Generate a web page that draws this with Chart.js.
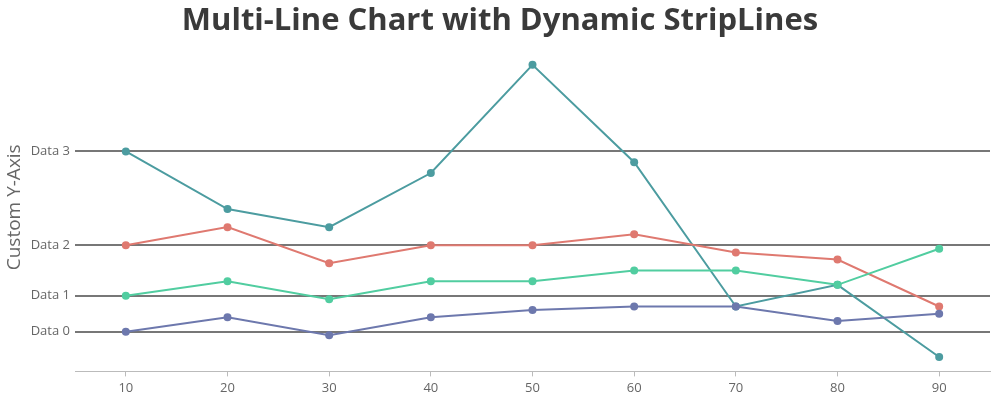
<!DOCTYPE html>
<html>
<head>
<meta charset="utf-8">
<script src="https://cdn.jsdelivr.net/npm/chart.js@4"></script>
<style>
  html, body { margin: 0; padding: 0; background: #fff; }
  #wrap { width: 1000px; height: 400px; }
</style>
</head>
<body>
<div id="wrap"><canvas id="chartStripLines" width="1000" height="400"></canvas></div>
<script>
var xValues = [10, 20, 30, 40, 50, 60, 70, 80, 90];
var series0 = [0, 4, -1, 4, 6, 7, 7, 3, 5];
var series1 = [10, 14, 9, 14, 14, 17, 17, 13, 23];
var series2 = [24, 29, 19, 24, 24, 27, 22, 20, 7];
var series3 = [50, 34, 29, 44, 74, 47, 7, 13, -7];
var stripValues = [0, 10, 24, 50];
var stripLabels = ['Data 0', 'Data 1', 'Data 2', 'Data 3'];
var seriesColors = ['#6D78AD', '#51CDA0', '#DF7970', '#4C9CA0'];

function toPoints(values) {
  return values.map(function (v, i) { return { x: xValues[i], y: v }; });
}

function makeSet(values, color) {
  return {
    data: toPoints(values),
    borderColor: color,
    backgroundColor: color,
    borderWidth: 2,
    pointRadius: 4,
    pointBorderWidth: 0,
    tension: 0
  };
}

var ctx = document.getElementById('chartStripLines');
new Chart(ctx, {
  type: 'line',
  data: {
    datasets: [
      makeSet(series0, seriesColors[0]),
      makeSet(series1, seriesColors[1]),
      makeSet(series2, seriesColors[2]),
      makeSet(series3, seriesColors[3])
    ]
  },
  options: {
    responsive: false,
    animation: false,
    layout: { padding: 0 },
    scales: {
      x: {
        type: 'linear',
        min: 5,
        max: 95,
        afterBuildTicks: function (scale) {
          scale.ticks = xValues.map(function (v) { return { value: v }; });
        },
        grid: { drawOnChartArea: false, color: '#bbb', tickLength: 5 },
        border: { color: '#bbb' },
        ticks: { color: '#666', font: { family: 'Open Sans', size: 13 }, padding: 4 }
      },
      y: {
        type: 'linear',
        min: -11,
        max: 80,
        afterBuildTicks: function (scale) {
          scale.ticks = stripValues.map(function (v) { return { value: v }; });
        },
        afterFit: function (scale) { scale.width = 75; },
        grid: { color: '#777', lineWidth: 2, drawTicks: false },
        border: { display: false },
        ticks: {
          color: '#666',
          padding: 5,
          font: { family: 'Open Sans', size: 13 },
          callback: function (value) {
            var i = stripValues.indexOf(value);
            return i >= 0 ? stripLabels[i] : '';
          }
        },
        title: {
          display: true,
          text: 'Custom Y-Axis',
          color: '#666',
          font: { family: 'Open Sans', size: 19 },
          padding: { top: 3, bottom: 0 }
        }
      },
      // empty right gutter so the title stays centred on the page
      yRight: {
        type: 'linear',
        position: 'right',
        display: true,
        afterFit: function (scale) { scale.width = 10; },
        grid: { display: false },
        border: { display: false },
        ticks: { display: false }
      }
    },
    plugins: {
      legend: { display: false },
      tooltip: { enabled: false },
      title: {
        display: true,
        text: 'Multi-Line Chart with Dynamic StripLines',
        color: '#3a3a3a',
        font: { family: 'Open Sans', size: 31, weight: 'bold' },
        padding: { top: 3, bottom: 3 }
      }
    }
  }
});
</script>
</body>
</html>
